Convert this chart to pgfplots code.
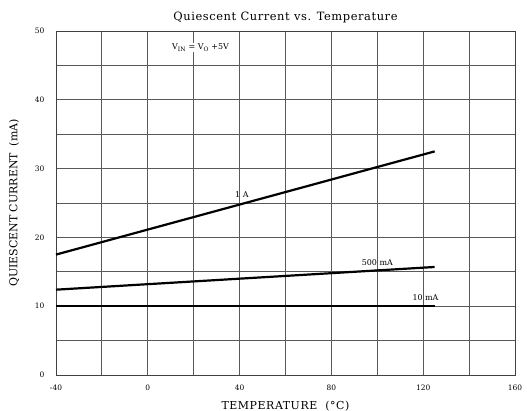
\documentclass[border=0pt]{standalone}
\usepackage{pgfplots}
\pgfplotsset{compat=1.18}
\usepackage{fontspec}
\setmainfont{DejaVu Serif}
\newcommand\spaced[1]{\addfontfeature{LetterSpace=#1}}
\begin{document}
\begin{tikzpicture}[x=1bp,y=1bp]
\begin{axis}[
  scale only axis,
  width=459bp, height=344bp,
  xmin=-40, xmax=160, ymin=0, ymax=50,
  xtick={-40,0,...,160},
  minor xtick={-20,20,...,140},
  ytick={0,10,...,50},
  minor ytick={5,15,...,45},
  grid=both,
  major grid style={draw=black!65, line width=0.9pt},
  minor grid style={draw=black!65, line width=0.9pt},
  axis line style={draw=black!75, line width=0.9pt},
  major tick length=0pt, minor tick length=0pt,
  /pgf/number format/assume math mode=true,
  tick label style={font=\fontsize{7.5}{9}\selectfont},
  xticklabel style={yshift=-6bp},
  yticklabel style={xshift=-8bp},
  title={Quiescent Current vs. Temperature},
  title style={font=\fontsize{11.5}{13}\selectfont\spaced{5}, yshift=-1bp},
  xlabel={TEMPERATURE\ \ (°C)},
  ylabel={QUIESCENT CURRENT\ \ (mA)},
  xlabel style={font=\fontsize{11}{13}\selectfont\spaced{5}, yshift=-4bp},
  ylabel style={font=\fontsize{11}{13}\selectfont, yshift=9bp},
  clip=false,
]
\addplot[black, line width=2.2bp] coordinates {(-40,17.5) (125,32.5)};
\addplot[black, line width=2.2bp] coordinates {(-40,12.4) (125,15.7)};
\addplot[black, line width=2.2bp] coordinates {(-40,10) (125,10)};
\node[font=\fontsize{8}{9}\selectfont] at (axis cs:41,26.3) {1 A};
\node[font=\fontsize{8}{9}\selectfont] at (axis cs:100,16.3) {500 mA};
\node[font=\fontsize{8}{9}\selectfont] at (axis cs:121,11.3) {10 mA};
\node[font=\fontsize{8}{9}\selectfont, fill=white, inner sep=1bp] at (axis cs:23,47.6) {V\textsubscript{IN} = V\textsubscript{O} +5V};
\coordinate (bl) at (rel axis cs:0,0);
\coordinate (tr) at (rel axis cs:1,1);
\end{axis}
\pgfresetboundingbox
\path[use as bounding box] ([shift={(-56bp,-36bp)}]bl) rectangle ([shift={(12bp,31bp)}]tr);
\end{tikzpicture}
\end{document}
